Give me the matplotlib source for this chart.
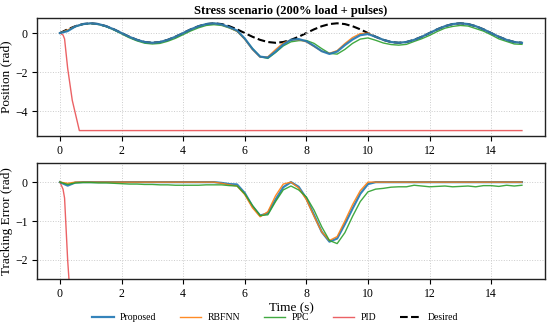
import numpy as np
import matplotlib
matplotlib.use("Agg")
import matplotlib.pyplot as plt

plt.rcParams["font.family"] = ["Liberation Serif", "DejaVu Serif"]
plt.rcParams["mathtext.fontset"] = "stix"

# ----- date -----
t = np.linspace(0, 15, 61)  # pas 0.25 s

desired = [0.00, 0.19, 0.35, 0.46, 0.50, 0.46, 0.35, 0.19,
           0.00, -0.19, -0.35, -0.46, -0.50, -0.46, -0.35, -0.19,
           0.00, 0.19, 0.35, 0.46, 0.50, 0.46, 0.35, 0.19,
           0.00, -0.19, -0.35, -0.46, -0.50, -0.46, -0.35, -0.19,
           0.00, 0.19, 0.35, 0.46, 0.50, 0.46, 0.35, 0.19,
           0.00, -0.19, -0.35, -0.46, -0.50, -0.46, -0.35, -0.19,
           0.00, 0.19, 0.35, 0.46, 0.50, 0.46, 0.35, 0.19,
           0.00, -0.19, -0.35, -0.46, -0.50]

err_proposed = [0.00, -0.09, -0.01] + [0.0] * 18 + [
    -0.02, -0.05, -0.06, -0.28, -0.62, -0.86, -0.80, -0.45, -0.13, 0.00,
    -0.12, -0.42, -0.85, -1.28, -1.53, -1.45, -1.08, -0.68, -0.30, -0.05] + [0.0] * 20

err_rbfnn = [0.00, -0.03, 0.00] + [0.0] * 18 + [
    -0.03, -0.07, -0.10, -0.32, -0.66, -0.89, -0.76, -0.35, -0.05, 0.00,
    -0.15, -0.45, -0.88, -1.28, -1.50, -1.40, -1.00, -0.58, -0.22, 0.00] + [0.0] * 20

err_ppc = [0.00, -0.06, -0.02, -0.01, -0.01, -0.02, -0.02, -0.03, -0.04, -0.05,
           -0.05, -0.06, -0.06, -0.07, -0.07, -0.08, -0.08, -0.08, -0.08, -0.07,
           -0.07,
           -0.07, -0.09, -0.10, -0.30, -0.60, -0.86, -0.84, -0.50, -0.20, -0.10,
           -0.20, -0.38, -0.72, -1.15, -1.50, -1.58, -1.30, -0.88, -0.50, -0.25,
           -0.18, -0.16, -0.13, -0.12, -0.12, -0.08, -0.10, -0.12, -0.11, -0.10,
           -0.12, -0.11, -0.10, -0.12, -0.09, -0.09, -0.11, -0.08, -0.10, -0.08]

# PID diverge imediat si se satureaza la -5 rad
t_pid = [0.0, 0.1, 0.15, 0.25, 0.4, 0.63, 15.0]
pos_pid = [0.0, -0.10, -0.30, -1.80, -3.45, -5.00, -5.00]
err_pid = [0.0, -0.18, -0.41, -2.00, -3.74, -5.45, -5.00]

des = np.array(desired)
series = [
    ("Proposed", err_proposed, "#1f77b4", 1.6),
    ("RBFNN", err_rbfnn, "#ff7f0e", 1.0),
    ("PPC", err_ppc, "#2ca02c", 1.0),
]
pid_color = "#e8474a"

fig = plt.figure(figsize=(5.5, 3.26), dpi=100)
ax1 = fig.add_axes([0.067, 0.583, 0.924, 0.362])
ax2 = fig.add_axes([0.067, 0.143, 0.924, 0.358])

# ----- pozitie -----
ax1.plot(t, des, "--", color="black", lw=1.5, zorder=1)
for name, err, col, lw in reversed(series):
    ax1.plot(t, des + np.array(err), color=col, lw=lw, alpha=0.9, zorder=3)
ax1.plot(t_pid, pos_pid, color=pid_color, lw=1.0, alpha=0.85, zorder=2)
ax1.set_ylabel("Position (rad)", fontsize=9.5, labelpad=2)
ax1.set_title("Stress scenario (200% load + pulses)", fontsize=9, fontweight="bold", pad=3)
ax1.set_yticks([0, -2, -4])
ax1.set_ylim(-5.275, 0.775)

# ----- eroare -----
handles = []
for name, err, col, lw in series:
    h, = ax2.plot(t, err, color=col, lw=lw, alpha=0.9, label=name, zorder=3)
    handles.append(h)
h, = ax2.plot(t_pid, err_pid, color=pid_color, lw=1.0, alpha=0.85, label="PID", zorder=2)
handles.append(h)
hd, = ax2.plot([], [], "--", color="black", lw=1.5, label="Desired")
handles.append(hd)
ax2.set_ylabel("Tracking Error (rad)", fontsize=9.5, labelpad=2)
ax2.set_xlabel("Time (s)", fontsize=9.5, labelpad=1)
ax2.set_yticks([0, -1, -2])
ax2.set_ylim(-2.5, 0.5)

for ax in (ax1, ax2):
    ax.set_xlim(-0.75, 15.75)
    ax.set_xticks([0, 2, 4, 6, 8, 10, 12, 14])
    ax.grid(True, ls=":", color="#cccccc", lw=0.7)
    ax.tick_params(labelsize=8.5, length=3.5, width=0.8, pad=3)
    for s in ax.spines.values():
        s.set_linewidth(1.0)
        s.set_color("#222222")

fig.legend(handles=handles, loc="lower center", ncol=5, frameon=False,
           fontsize=7, bbox_to_anchor=(0.5, -0.015), handlelength=2.2,
           handletextpad=0.6, columnspacing=2.5)

fig.savefig("out.png", dpi=100)
